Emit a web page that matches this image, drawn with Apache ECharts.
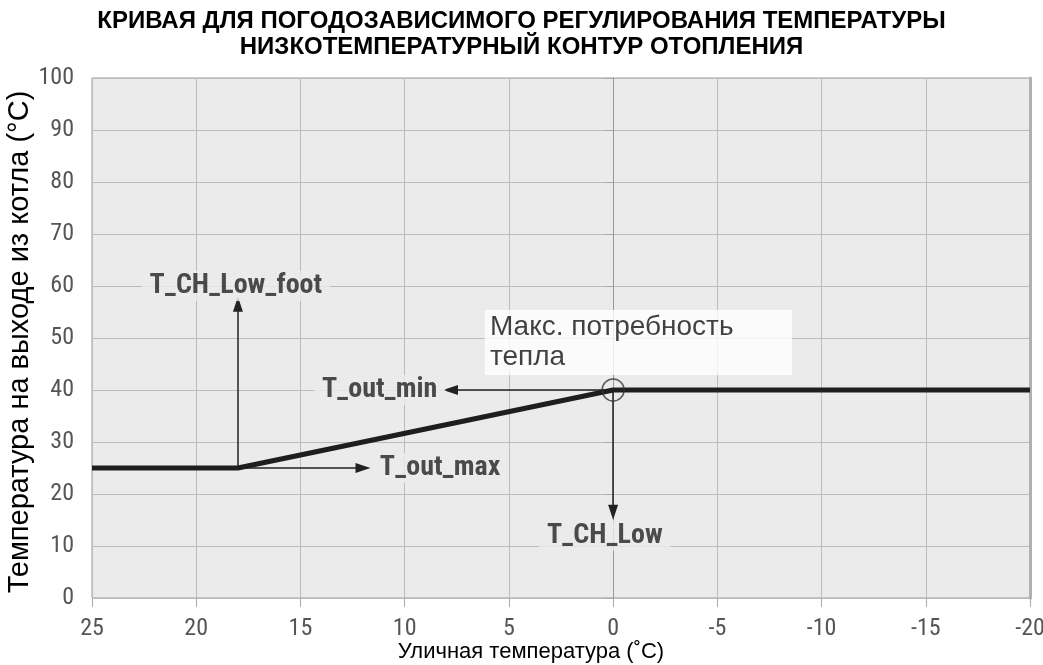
<!DOCTYPE html>
<html><head><meta charset="utf-8">
<script src="https://cdn.jsdelivr.net/npm/echarts@6/dist/echarts.min.js"></script>
<style>html,body{margin:0;padding:0;background:#fff}#c{width:1043px;height:665px}</style>
</head><body><div id="c"></div>
<script>
const titleText = 'КРИВАЯ ДЛЯ ПОГОДОЗАВИСИМОГО РЕГУЛИРОВАНИЯ ТЕМПЕРАТУРЫ\nНИЗКОТЕМПЕРАТУРНЫЙ КОНТУР ОТОПЛЕНИЯ';
const xAxisName = 'Уличная температура (˚C)';
const yAxisName = 'Температура на выходе из котла (°C)';
// heating curve: outdoor temp -> flow temp
const curveX = [25, 18, 0, -20];
const curveY = [25, 25, 40, 40];
// arrows [x1,y1,x2,y2]
const arrows = [
  [18, 25, 18, 56.5],
  [18, 25, 12, 25],
  [0, 40, 7.8, 40],
  [0, 40, 0, 16.5]
];
// labels [x, y, text]
const labelPts = [
  [18.1, 60, 'T_CH_Low_foot'],
  [8.3, 25, 'T_out_max'],
  [11.2, 40, 'T_out_min'],
  [0.4, 12, 'T_CH_Low']
];
const maxDemandPt = [0, 40];
const noteBox = [6.15, 42.9, 'Макс. потребность\nтепла'];

const narrow = '"Roboto Condensed", "Liberation Sans Narrow", "Arial Narrow", sans-serif';
const regular = '"Liberation Sans", Arial, sans-serif';
const chart = echarts.init(document.getElementById('c'), null, {renderer: 'canvas'});
chart.setOption({
  animation: false,
  backgroundColor: '#fff',
  title: {
    text: titleText, left: 'center', top: 3,
    textStyle: {fontFamily: regular, fontWeight: 'bold', fontSize: 24, lineHeight: 26, color: '#000'}
  },
  grid: {left: 92, right: 13, top: 78, bottom: 67, outerBoundsMode: 'none', containLabel: false,
    show: true, backgroundColor: '#ebebeb', borderColor: '#9a9a9a', borderWidth: 1},
  xAxis: {
    type: 'value', inverse: true, min: -20, max: 25, interval: 5,
    name: xAxisName, nameLocation: 'middle', nameGap: 43, nameMoveOverlap: false,
    nameTextStyle: {fontFamily: regular, fontSize: 22, color: '#000', padding: [0, 60, 0, 0]},
    axisLine: {show: false},
    axisTick: {show: true, length: 9, lineStyle: {color: '#aaa'}},
    axisLabel: {fontFamily: narrow, fontSize: 24, color: '#555', margin: 19},
    splitLine: {show: true, lineStyle: {color: '#bcbcbc', width: 1}}
  },
  yAxis: [{
    type: 'value', min: 0, max: 100, interval: 10,
    name: yAxisName, nameLocation: 'middle', nameGap: 58, nameRotate: 90, nameMoveOverlap: false,
    nameTextStyle: {fontFamily: regular, fontSize: 29, color: '#000', padding: [0, 8, 0, 0]},
    axisLine: {show: true, lineStyle: {color: '#999'}},
    axisTick: {show: true, length: 9, lineStyle: {color: '#aaa'}},
    axisLabel: {fontFamily: narrow, fontSize: 24, color: '#555', margin: 18},
    splitLine: {show: true, lineStyle: {color: '#bcbcbc', width: 1}}
  }, {
    type: 'value', position: 'right', min: 0, max: 100, interval: 10,
    axisLine: {show: true, lineStyle: {color: '#b0b0b0', width: 3}},
    axisTick: {show: false}, axisLabel: {show: false}, splitLine: {show: false}
  }],
  series: [
    {
      type: 'line', data: curveX.map((x, i) => [x, curveY[i]]),
      symbol: 'none', lineStyle: {color: '#1e1e1e', width: 5}, z: 5,
      markLine: {
        silent: true, symbol: ['none', 'triangle'], symbolSize: [10, 15],
        lineStyle: {color: '#222', width: 1.5, type: 'solid'}, label: {show: false},
        data: arrows.map(a => [{coord: [a[0], a[1]]}, {coord: [a[2], a[3]]}])
      }
    },
    {
      type: 'scatter', data: [maxDemandPt], symbol: 'circle', symbolSize: 22,
      itemStyle: {color: 'rgba(0,0,0,0)', borderColor: '#333', borderWidth: 1.5}, z: 6
    },
    {
      type: 'scatter', symbolSize: 0, z: 7,
      data: labelPts.map(p => ({value: [p[0], p[1]], name: p[2]})),
      label: {
        show: true, position: 'inside', formatter: p => p.name,
        fontFamily: narrow, fontWeight: 'bold', fontSize: 28, color: '#222',
        backgroundColor: '#ebebeb', padding: [1, 8]
      }
    },
    {
      type: 'scatter', symbolSize: 0, z: 8,
      data: [{value: [noteBox[0], noteBox[1]], name: noteBox[2]}],
      label: {
        show: true, position: [0, 0], align: 'left', verticalAlign: 'bottom',
        formatter: p => p.name, fontFamily: regular, fontSize: 28,
        lineHeight: 30, color: '#111', backgroundColor: '#fff', width: 297, padding: [2, 5, 3, 5]
      }
    }
  ]
});
</script></body></html>
